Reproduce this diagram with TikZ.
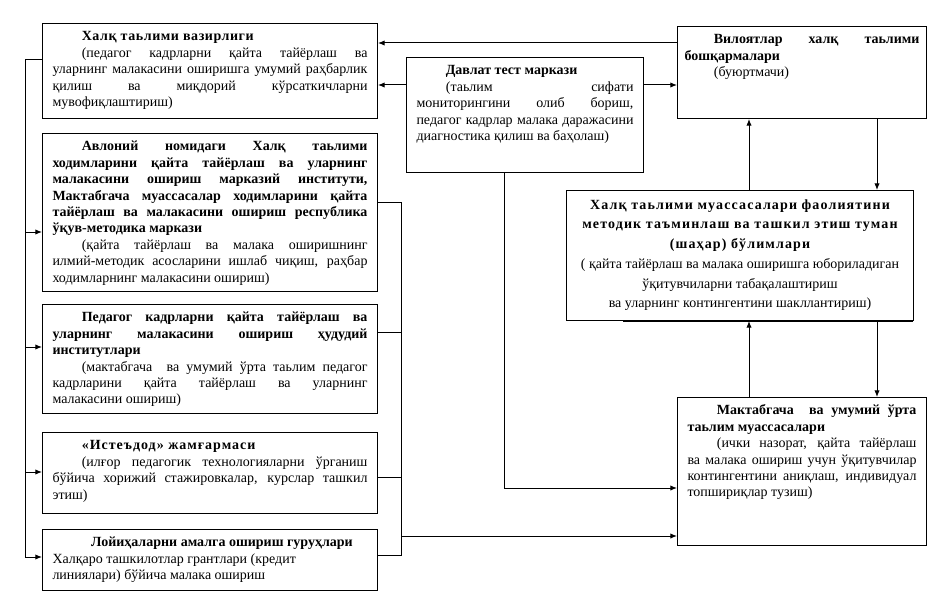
\documentclass[tikz,border=0pt]{standalone}
\usepackage{fontspec}
\setmainfont{Liberation Serif}
\usetikzlibrary{arrows.meta}
\newcommand\tbox[3]{\parbox[c][#2][t]{#1}{\setlength{\parindent}{22pt}\hyphenpenalty=10000 \exhyphenpenalty=10000 \tolerance=9999 \emergencystretch=20pt #3}}
\newcommand\st{\rule{0pt}{11pt}}
\newcommand\wb[2]{{\addfontfeature{LetterSpace=#1}\bfseries #2}}
\begin{document}
\begin{tikzpicture}[x=0.75pt,y=-0.75pt,
  box/.style={draw, line width=0.75pt, inner xsep=7.5pt, inner ysep=2pt, anchor=north west,
    font=\fontsize{10.5pt}{12.3pt}\selectfont},
  arr/.style={line width=0.75pt, -{Latex[length=5pt,width=4pt]}},
  ln/.style={line width=0.75pt}]
\useasboundingbox (0,0) rectangle (948,613);
\fill[white] (0,0) rectangle (948,613);

\node[box] (b1) at (42,23) {\tbox{236.25pt}{67.25pt}{\st\wb{4}{Халқ таьлими вазирлиги}\par
(педагог кадрларни қайта тайёрлаш ва\linebreak уларнинг малакасини оширишга умумий раҳбарлик\linebreak қилиш ва миқдорий кўрсаткичларни\linebreak мувофиқлаштириш)}};

\node[box] (b2) at (42,133) {\tbox{236.25pt}{114.5pt}{\st\textbf{Авлоний номидаги Халқ таьлими\linebreak ходимларини қайта тайёрлаш ва уларнинг\linebreak малакасини ошириш марказий институти,\linebreak Мактабгача муассасалар ходимларини қайта\linebreak тайёрлаш ва малакасини ошириш республика\linebreak ўқув-методика маркази}\par
(қайта тайёрлаш ва малака оширишнинг\linebreak илмий-методик асосларини ишлаб чиқиш, раҳбар\linebreak ходимларнинг малакасини ошириш)}};

\node[box] (b3) at (42,304) {\tbox{236.25pt}{77.75pt}{\st\textbf{Педагог кадрларни қайта тайёрлаш ва\linebreak уларнинг малакасини ошириш ҳудудий\linebreak институтлари}\par
(мактабгача\ \ ва умумий ўрта таьлим педагог\linebreak кадрларини қайта тайёрлаш ва уларнинг\linebreak малакасини ошириш)}};

\node[box] (b4) at (42,432) {\tbox{236.25pt}{56.75pt}{\st\wb{7}{«Истеъдод» жамғармаси}\par
(илғор педагогик технологияларни ўрганиш\linebreak бўйича хорижий стажировкалар, курслар ташкил\linebreak этиш)}};

\node[box] (b5) at (42,529) {\tbox{236.25pt}{41.75pt}{\st\hspace*{7pt}\textbf{Лойиҳаларни амалга ошириш гуруҳлари}\par
\noindent Халқаро ташкилотлар грантлари (кредит\\ линиялари) бўйича малака ошириш}};

\node[box] (bd) at (406,57) {\tbox{162.75pt}{82.25pt}{\st\textbf{Давлат тест маркази}\par
(таьлим сифати\linebreak мониторингини олиб бориш,\linebreak педагог кадрлар малака даражасини\linebreak диагностика қилиш ва баҳолаш)}};

\node[box, inner xsep=5.25pt] (bv) at (677,26) {\tbox{176.25pt}{65pt}{\st\textbf{Вилоятлар халқ таьлими\linebreak бошқармалари}\par
(буюртмачи)}};

\node[box, inner xsep=4pt, font=\fontsize{10.5pt}{14.8pt}\selectfont] (bh) at (566,190) {\tbox{252.25pt}{93.5pt}{\centering\rule{0pt}{12pt}\wb{8}{Халқ таьлими муассасалари фаолиятини\\ методик таъминлаш ва ташкил этиш туман\\ (шаҳар) бўлимлари}\par
( қайта тайёрлаш ва малака оширишга юбориладиган\\ ўқитувчиларни табақалаштириш\\ ва уларнинг контингентини шакллантириш)}};
\draw[line width=1.5pt] (623,320.5) -- (913,320.5);

\node[box] (bm) at (677,397) {\tbox{171.75pt}{107pt}{\st\textbf{Мактабгача\ \ ва умумий ўрта\linebreak таьлим муассасалари}\par
(ички назорат, қайта тайёрлаш\linebreak ва малака ошириш учун ўқитувчилар\linebreak контингентини аниқлаш, индивидуал\linebreak топшириқлар тузиш)}};

\coordinate (L) at (25,0);
\coordinate (R) at (401,0);
\coordinate (D) at (504,0);

% top connectors
\draw[arr] (bv.west |- 0,43) -- (b1.east |- 0,43);
\draw[arr] (bd.west |- 0,85) -- (b1.east |- 0,85);
\draw[arr] (bd.east |- 0,85) -- (bv.west |- 0,85);
\draw[arr] (bd.south -| D) -- (D |- 0,488) -- (bm.west |- 0,488);

% left bus
\draw[ln] (b1.west |- 0,60) -- (L |- 0,60) -- (L |- 0,557);
\draw[arr] (L |- 0,232) -- (b2.west |- 0,232);
\draw[arr] (L |- 0,347) -- (b3.west |- 0,347);
\draw[arr] (L |- 0,472) -- (b4.west |- 0,472);
\draw[arr] (L |- 0,557) -- (b5.west |- 0,557);

% right bus
\draw[ln] (b2.east |- 0,202) -- (R |- 0,202) -- (R |- 0,555) -- (b5.east |- 0,555);
\draw[ln] (b3.east |- 0,332) -- (R |- 0,332);
\draw[ln] (b4.east |- 0,477) -- (R |- 0,477);
\draw[arr] (R |- 0,536) -- (bm.west |- 0,536);

% right column verticals
\draw[arr] (bh.north -| 749,0) -- (bv.south -| 749,0);
\draw[arr] (bv.south -| 877,0) -- (bh.north -| 877,0);
\draw[arr] (bm.north -| 749,0) -- (bh.south -| 749,0);
\draw[arr] (bh.south -| 877,0) -- (bm.north -| 877,0);
\end{tikzpicture}
\end{document}
